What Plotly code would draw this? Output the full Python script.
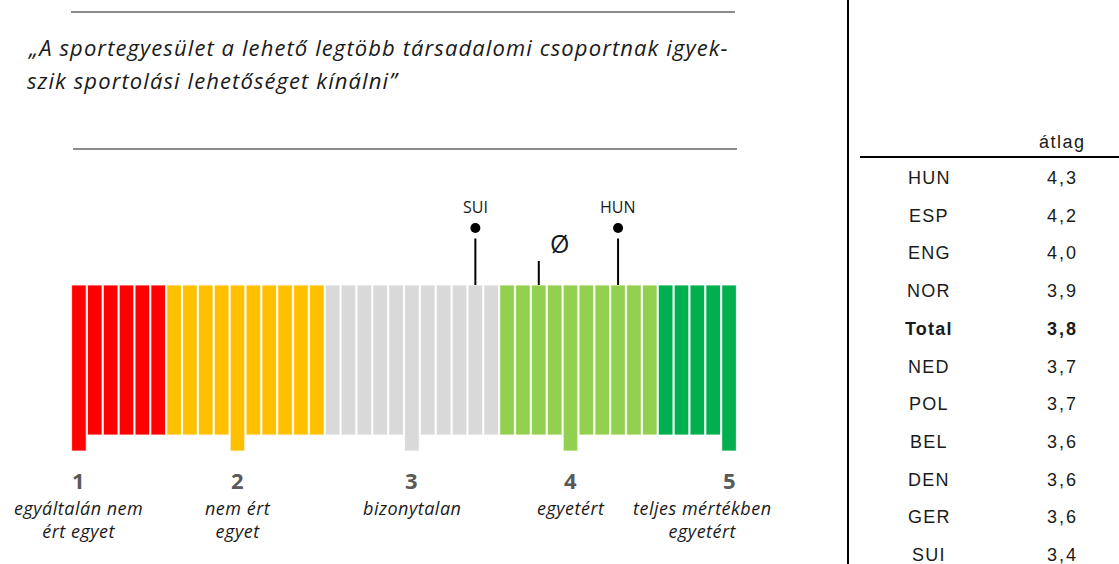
import numpy as np
import plotly.graph_objects as go

# --- data -------------------------------------------------------------
SCALE_POINTS = [1, 2, 3, 4, 5]
SCALE_LABELS = ["egyáltalán nem<br>ért egyet", "nem ért<br>egyet", "bizonytalan",
                "egyetért", "teljes mértékben<br>egyetért"]
GROUP_COLORS = ["#FF0000", "#FFC000", "#D9D9D9", "#92D050", "#00B050"]
GROUP_SIZES = [6, 10, 11, 10, 5]          # number of thin bars per colour band
ANCHOR_BARS = [0, 10, 21, 31, 41]         # the longer bar of each scale point

MARKER_TEAMS = ["SUI", "HUN"]
MARKER_VALUES = [3.4, 4.3]
AVG_VALUE = 3.8

TABLE_TEAMS = ["HUN", "ESP", "ENG", "NOR", "Total", "NED", "POL", "BEL", "DEN", "GER", "SUI"]
TABLE_MEANS = [4.3, 4.2, 4.0, 3.9, 3.8, 3.7, 3.7, 3.6, 3.6, 3.6, 3.4]

TITLE_LINES = ["„A sportegyesület a lehető legtöbb társadalomi csoportnak igyek-",
               "szik sportolási lehetőséget kínálni”"]

W, H = 1119, 564
TEXT = "#1a1a1a"
NUM_GREY = "#595959"
RULE_GREY = "#8c8c8c"
LONG = 0.107


def px_x(p):
    return p / W


def px_y(p):
    return 1 - p / H


def spaced(s, ls):
    return f'<span style="letter-spacing:{ls}px">{s}</span>'


def scale_to_bar(v):
    return float(np.interp(v, SCALE_POINTS, ANCHOR_BARS))


# bar scale
colors, xs, ys, bases = [], [], [], []
i = 0
for col, n in zip(GROUP_COLORS, GROUP_SIZES):
    for _ in range(n):
        xs.append(i)
        colors.append(col)
        if i in ANCHOR_BARS:
            ys.append(1 + LONG)
            bases.append(-LONG)
        else:
            ys.append(1)
            bases.append(0)
        i += 1

fig = go.Figure()
fig.add_bar(
    x=xs, y=ys, base=bases,
    marker=dict(color=colors, line=dict(color="rgba(255,255,255,0.8)", width=1)),
    width=0.92, hoverinfo="skip", showlegend=False,
)

# country markers
for team, v in zip(MARKER_TEAMS, MARKER_VALUES):
    bx = scale_to_bar(v)
    fig.add_scatter(x=[bx, bx], y=[1.0, 1.31], mode="lines",
                    line=dict(color="black", width=2), hoverinfo="skip", showlegend=False)
    fig.add_scatter(x=[bx], y=[1.38], mode="markers",
                    marker=dict(color="black", size=10), hoverinfo="skip", showlegend=False)
    fig.add_annotation(x=bx, y=1.52, text=team, showarrow=False,
                       xanchor="center", yanchor="middle",
                       font=dict(family="Open Sans", size=16, color=TEXT))

# average marker
ax = scale_to_bar(AVG_VALUE)
fig.add_scatter(x=[ax, ax], y=[1.0, 1.16], mode="lines",
                line=dict(color="black", width=2), hoverinfo="skip", showlegend=False)
fig.add_annotation(x=ax, y=1.28, text="Ø", showarrow=False, xshift=21,
                   xanchor="center", yanchor="middle",
                   font=dict(family="Open Sans", size=25, color=TEXT))

# scale numbers and labels
for k, (pt, lab) in enumerate(zip(SCALE_POINTS, SCALE_LABELS)):
    bx = ANCHOR_BARS[k]
    fig.add_annotation(x=bx, y=-0.3, text=f"<b>{pt}</b>", showarrow=False,
                       xanchor="center", yanchor="middle",
                       font=dict(family="Open Sans", size=22, color=NUM_GREY))
    fig.add_annotation(x=bx, y=-0.39, yanchor="top", xanchor="center",
                       text=f"<i>{spaced(lab, 0.5)}</i>", showarrow=False,
                       xshift=-27 if k == 4 else 0,
                       font=dict(family="Open Sans", size=18, color=TEXT),
                       align="center")

# title lines
for j, line in enumerate(TITLE_LINES):
    fig.add_annotation(xref="paper", yref="paper", x=px_x(25), y=px_y(47 + 33 * j),
                       xanchor="left", yanchor="middle",
                       text=f"<i>{spaced(line, 1.1)}</i>",
                       showarrow=False, font=dict(family="Open Sans", size=22, color=TEXT))

# table
fig.add_annotation(xref="paper", yref="paper", x=px_x(1062), y=px_y(142),
                   xanchor="center", yanchor="middle", text=spaced("átlag", 1.5),
                   showarrow=False, font=dict(family="Liberation Sans", size=18, color=TEXT))
for r, (team, m) in enumerate(zip(TABLE_TEAMS, TABLE_MEANS)):
    yy = px_y(178 + 37.7 * r)
    val = f"{m:.1f}".replace(".", ",")
    team_t, val_t = spaced(team, 1.2), spaced(val, 2)
    if team == "Total":
        team_t, val_t = f"<b>{team_t}</b>", f"<b>{val_t}</b>"
    fig.add_annotation(xref="paper", yref="paper", x=px_x(929), y=yy, text=team_t,
                       xanchor="center", yanchor="middle", showarrow=False,
                       font=dict(family="Liberation Sans", size=18, color=TEXT))
    fig.add_annotation(xref="paper", yref="paper", x=px_x(1062), y=yy, text=val_t,
                       xanchor="center", yanchor="middle", showarrow=False,
                       font=dict(family="Liberation Sans", size=18, color=TEXT))

shapes = [
    dict(type="line", xref="paper", yref="paper", x0=px_x(71), x1=px_x(735),
         y0=px_y(12), y1=px_y(12), line=dict(color=RULE_GREY, width=2)),
    dict(type="line", xref="paper", yref="paper", x0=px_x(73), x1=px_x(737),
         y0=px_y(149), y1=px_y(149), line=dict(color=RULE_GREY, width=2)),
    dict(type="line", xref="paper", yref="paper", x0=px_x(848), x1=px_x(848),
         y0=0, y1=1, line=dict(color="black", width=2)),
    dict(type="line", xref="paper", yref="paper", x0=px_x(860), x1=1,
         y0=px_y(157), y1=px_y(157), line=dict(color="black", width=2)),
]

# plot region: bar index -0.5..41.5 -> px 71..737 ; y 1 -> px 285, y 0 -> px 435
fig.update_layout(
    width=W, height=H,
    margin=dict(l=0, r=0, t=0, b=0),
    plot_bgcolor="white", paper_bgcolor="white",
    shapes=shapes,
    xaxis=dict(domain=[px_x(71), px_x(737)], range=[-0.5, len(xs) - 0.5],
               visible=False, fixedrange=True),
    yaxis=dict(domain=[px_y(555), px_y(165)], range=[-0.8, 1.8],
               visible=False, fixedrange=True),
)

fig.write_html("out.html", config={"displayModeBar": False},
               post_script="document.body.style.margin='0';")
